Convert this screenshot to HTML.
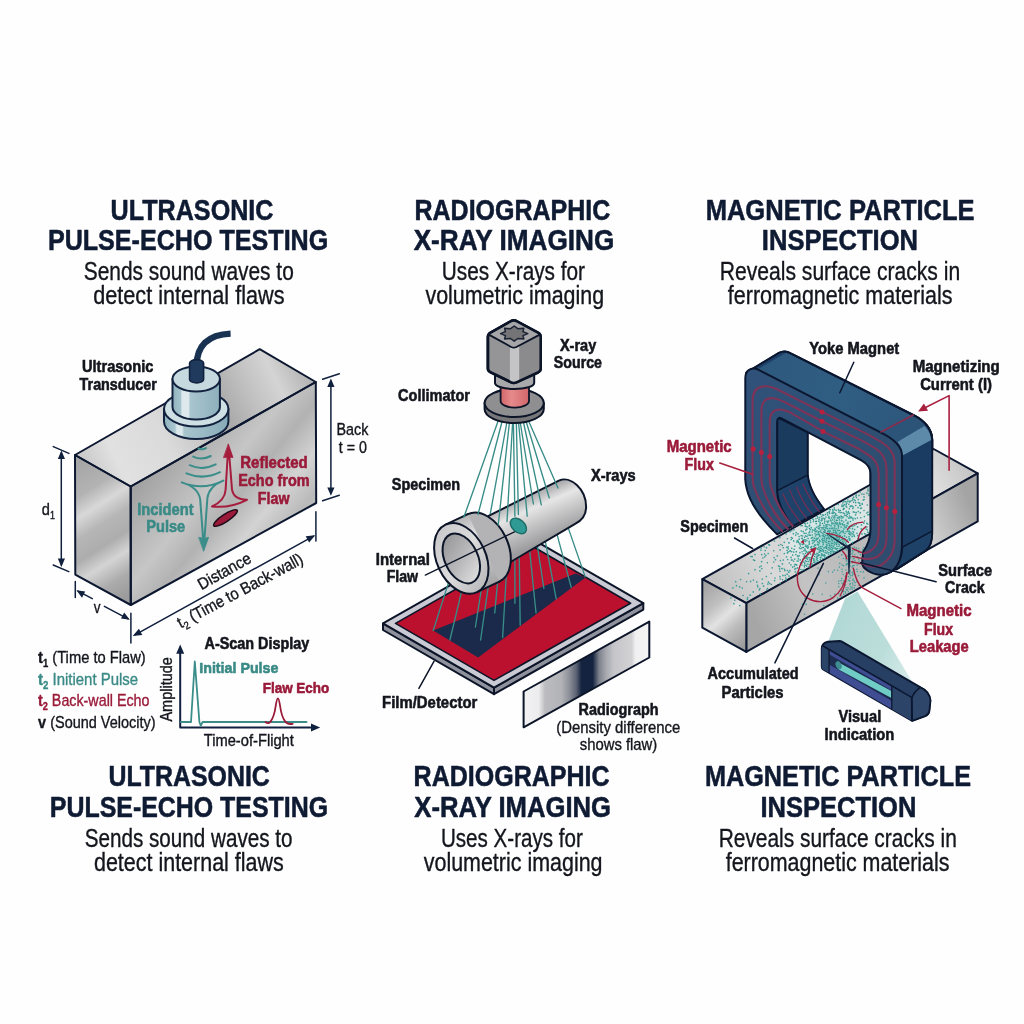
<!DOCTYPE html>
<html lang="en">
<head>
<meta charset="utf-8">
<title>NDT methods: Ultrasonic, Radiographic, Magnetic Particle</title>
<style>
html,body{margin:0;padding:0;background:#fefefe;}
body{width:1024px;height:1024px;overflow:hidden;}
svg{display:block;font-family:"Liberation Sans",sans-serif;will-change:transform;}
text{stroke-linejoin:round;}
</style>
</head>
<body>
<svg width="1024" height="1024" viewBox="0 0 1024 1024">
<defs>
<linearGradient id="mTop" gradientUnits="userSpaceOnUse" x1="90" y1="470" x2="300" y2="365">
<stop offset="0" stop-color="#cbcbcc"/><stop offset=".12" stop-color="#e1e1e2"/><stop offset=".35" stop-color="#dadadb"/><stop offset=".5" stop-color="#c6c6c7"/><stop offset=".62" stop-color="#a9a9aa"/><stop offset=".75" stop-color="#c0c0c1"/><stop offset=".88" stop-color="#d4d4d5"/><stop offset="1" stop-color="#b6b6b7"/>
</linearGradient>
<linearGradient id="mFront" gradientUnits="userSpaceOnUse" x1="140" y1="470" x2="310" y2="610">
<stop offset="0" stop-color="#9d9d9e"/><stop offset=".16" stop-color="#b3b3b4"/><stop offset=".3" stop-color="#c6c6c7"/><stop offset=".42" stop-color="#b2b2b3"/><stop offset=".56" stop-color="#d3d3d4"/><stop offset=".68" stop-color="#bababb"/><stop offset=".82" stop-color="#c4c4c5"/><stop offset="1" stop-color="#a1a1a2"/>
</linearGradient>
<linearGradient id="mSide" gradientUnits="userSpaceOnUse" x1="66" y1="472" x2="140" y2="588">
<stop offset="0" stop-color="#a6a6a7"/><stop offset=".2" stop-color="#b3b3b4"/><stop offset=".33" stop-color="#d8d8d9"/><stop offset=".46" stop-color="#b6b6b7"/><stop offset=".6" stop-color="#adadae"/><stop offset=".72" stop-color="#d4d4d5"/><stop offset=".86" stop-color="#acacad"/><stop offset="1" stop-color="#9b9b9c"/>
</linearGradient>
<linearGradient id="tdSide" gradientUnits="userSpaceOnUse" x1="164" y1="0" x2="228.4" y2="0">
<stop offset="0" stop-color="#8fb2be"/><stop offset=".17" stop-color="#a9c6cf"/><stop offset=".2" stop-color="#dbe8eb"/><stop offset=".28" stop-color="#dbe8eb"/><stop offset=".31" stop-color="#a9c5ce"/><stop offset="1" stop-color="#86abb8"/>
</linearGradient>
<linearGradient id="tdSide2" gradientUnits="userSpaceOnUse" x1="172.5" y1="0" x2="220" y2="0">
<stop offset="0" stop-color="#8fb2be"/><stop offset=".17" stop-color="#a5c3cc"/><stop offset=".2" stop-color="#dde9ec"/><stop offset=".34" stop-color="#dde9ec"/><stop offset=".37" stop-color="#a9c5ce"/><stop offset="1" stop-color="#8db0bc"/>
</linearGradient>
<linearGradient id="cylBody" gradientUnits="userSpaceOnUse" x1="528" y1="494" x2="548" y2="540">
<stop offset="0" stop-color="#a3a3a5"/><stop offset=".3" stop-color="#e6e6e7"/><stop offset=".55" stop-color="#cbcbcc"/><stop offset="1" stop-color="#9c9c9e"/>
</linearGradient>
<linearGradient id="cylFl" gradientUnits="userSpaceOnUse" x1="470" y1="512" x2="500" y2="585">
<stop offset="0" stop-color="#b3b3b5"/><stop offset=".3" stop-color="#e4e4e5"/><stop offset=".6" stop-color="#c6c6c8"/><stop offset="1" stop-color="#a0a0a2"/>
</linearGradient>
<linearGradient id="cylFace" gradientUnits="userSpaceOnUse" x1="-20" y1="-30" x2="20" y2="30">
<stop offset="0" stop-color="#c9c9cb"/><stop offset=".5" stop-color="#dcdcdd"/><stop offset="1" stop-color="#b9b9bb"/>
</linearGradient>
<linearGradient id="cylHole" gradientUnits="userSpaceOnUse" x1="-14" y1="-20" x2="14" y2="22">
<stop offset="0" stop-color="#98989a"/><stop offset=".55" stop-color="#bcbcbe"/><stop offset="1" stop-color="#e0e0e1"/>
</linearGradient>
<linearGradient id="pinkCyl" gradientUnits="userSpaceOnUse" x1="500" y1="0" x2="529" y2="0">
<stop offset="0" stop-color="#cf6468"/><stop offset=".4" stop-color="#e68a8c"/><stop offset="1" stop-color="#d0666a"/>
</linearGradient>
<linearGradient id="radio" gradientUnits="userSpaceOnUse" x1="523.6" y1="0" x2="649.3" y2="0">
<stop offset="0" stop-color="#f2f2f3"/><stop offset=".12" stop-color="#ececee"/><stop offset=".17" stop-color="#bcbcc0"/><stop offset=".3" stop-color="#b2b3b7"/>
<stop offset=".36" stop-color="#8f929b"/><stop offset=".42" stop-color="#5a6172"/><stop offset=".46" stop-color="#14233f"/><stop offset=".55" stop-color="#14233f"/>
<stop offset=".6" stop-color="#7d818d"/><stop offset=".66" stop-color="#a9abb1"/><stop offset=".72" stop-color="#c6c6ca"/><stop offset=".86" stop-color="#d2d2d5"/><stop offset=".89" stop-color="#f0f0f1"/><stop offset="1" stop-color="#f4f4f5"/>
</linearGradient>
<linearGradient id="ykFront" gradientUnits="userSpaceOnUse" x1="745" y1="380" x2="900" y2="560">
<stop offset="0" stop-color="#30527a"/><stop offset=".5" stop-color="#2e4f72"/><stop offset="1" stop-color="#2f4c6e"/>
</linearGradient>
<linearGradient id="ykTop" gradientUnits="userSpaceOnUse" x1="760" y1="360" x2="920" y2="430">
<stop offset="0" stop-color="#2e597e"/><stop offset=".5" stop-color="#305d82"/><stop offset="1" stop-color="#2d577b"/>
</linearGradient>
<linearGradient id="spTop" gradientUnits="userSpaceOnUse" x1="720" y1="590" x2="960" y2="455">
<stop offset="0" stop-color="#c2c2c3"/><stop offset=".2" stop-color="#d9d9da"/><stop offset=".5" stop-color="#cfcfd0"/><stop offset=".85" stop-color="#e0e0e1"/><stop offset="1" stop-color="#c6c6c7"/>
</linearGradient>
<linearGradient id="spFront" gradientUnits="userSpaceOnUse" x1="750" y1="610" x2="975" y2="515">
<stop offset="0" stop-color="#a6a6a7"/><stop offset=".25" stop-color="#c3c3c4"/><stop offset=".5" stop-color="#b9b9ba"/><stop offset=".8" stop-color="#d0d0d1"/><stop offset="1" stop-color="#a4a4a5"/>
</linearGradient>
<linearGradient id="spEnd" gradientUnits="userSpaceOnUse" x1="700" y1="590" x2="748" y2="644">
<stop offset="0" stop-color="#a4a4a5"/><stop offset=".3" stop-color="#c0c0c1"/><stop offset=".5" stop-color="#e2e2e3"/><stop offset=".7" stop-color="#bdbdbe"/><stop offset="1" stop-color="#9a9a9b"/>
</linearGradient>
<linearGradient id="beam" gradientUnits="userSpaceOnUse" x1="830" y1="640" x2="910" y2="680">
<stop offset="0" stop-color="#b3d9d6"/><stop offset=".6" stop-color="#bcdedb"/><stop offset="1" stop-color="#d6ebe9"/>
</linearGradient>
<radialGradient id="haze" gradientUnits="userSpaceOnUse" cx="832" cy="536" r="56" gradientTransform="translate(832 536) rotate(-29.3) scale(1 .7) translate(-832 -536)">
<stop offset="0" stop-color="#7cc4be" stop-opacity=".95"/><stop offset=".22" stop-color="#a9d9d5" stop-opacity=".9"/><stop offset=".5" stop-color="#d6ecea" stop-opacity=".8"/><stop offset=".8" stop-color="#e6f2f1" stop-opacity=".5"/><stop offset="1" stop-color="#eef6f5" stop-opacity="0"/>
</radialGradient>
</defs>

<rect width="1024" height="1024" fill="#fefefe"/>
<g id="titles">
<text x="110.54" y="220.0" font-size="29.9" font-weight="700" fill="#0f1a33" stroke="#0f1a33" stroke-width="0.55" textLength="162.97" lengthAdjust="spacingAndGlyphs">ULTRASONIC</text>
<text x="47.91" y="250.4" font-size="29.9" font-weight="700" fill="#0f1a33" stroke="#0f1a33" stroke-width="0.55" textLength="280.36" lengthAdjust="spacingAndGlyphs">PULSE-ECHO TESTING</text>
<text x="83.79" y="280.2" font-size="25.4" font-weight="400" fill="#14161d" stroke="#14161d" stroke-width="0.36" textLength="209.97" lengthAdjust="spacingAndGlyphs">Sends sound waves to</text>
<text x="93.24" y="304.2" font-size="25.4" font-weight="400" fill="#14161d" stroke="#14161d" stroke-width="0.36" textLength="191.24" lengthAdjust="spacingAndGlyphs">detect internal flaws</text>
<text x="414.54" y="220.0" font-size="29.9" font-weight="700" fill="#0f1a33" stroke="#0f1a33" stroke-width="0.55" textLength="195.64" lengthAdjust="spacingAndGlyphs">RADIOGRAPHIC</text>
<text x="413.67" y="250.4" font-size="29.9" font-weight="700" fill="#0f1a33" stroke="#0f1a33" stroke-width="0.55" textLength="200.62" lengthAdjust="spacingAndGlyphs">X-RAY IMAGING</text>
<text x="441.82" y="280.2" font-size="25.4" font-weight="400" fill="#14161d" stroke="#14161d" stroke-width="0.36" textLength="143.21" lengthAdjust="spacingAndGlyphs">Uses X-rays for</text>
<text x="425.42" y="304.2" font-size="25.4" font-weight="400" fill="#14161d" stroke="#14161d" stroke-width="0.36" textLength="178.70" lengthAdjust="spacingAndGlyphs">volumetric imaging</text>
<text x="705.66" y="220.0" font-size="29.9" font-weight="700" fill="#0f1a33" stroke="#0f1a33" stroke-width="0.55" textLength="269.00" lengthAdjust="spacingAndGlyphs">MAGNETIC PARTICLE</text>
<text x="761.83" y="250.4" font-size="29.9" font-weight="700" fill="#0f1a33" stroke="#0f1a33" stroke-width="0.55" textLength="156.15" lengthAdjust="spacingAndGlyphs">INSPECTION</text>
<text x="719.76" y="280.2" font-size="25.4" font-weight="400" fill="#14161d" stroke="#14161d" stroke-width="0.36" textLength="240.37" lengthAdjust="spacingAndGlyphs">Reveals surface cracks in</text>
<text x="727.80" y="304.2" font-size="25.4" font-weight="400" fill="#14161d" stroke="#14161d" stroke-width="0.36" textLength="224.73" lengthAdjust="spacingAndGlyphs">ferromagnetic materials</text>
<text x="108.41" y="786.0" font-size="29.9" font-weight="700" fill="#0f1a33" stroke="#0f1a33" stroke-width="0.55" textLength="161.46" lengthAdjust="spacingAndGlyphs">ULTRASONIC</text>
<text x="49.79" y="817.2" font-size="29.9" font-weight="700" fill="#0f1a33" stroke="#0f1a33" stroke-width="0.55" textLength="278.36" lengthAdjust="spacingAndGlyphs">PULSE-ECHO TESTING</text>
<text x="84.74" y="846.5" font-size="25.4" font-weight="400" fill="#14161d" stroke="#14161d" stroke-width="0.36" textLength="207.76" lengthAdjust="spacingAndGlyphs">Sends sound waves to</text>
<text x="93.99" y="871.0" font-size="25.4" font-weight="400" fill="#14161d" stroke="#14161d" stroke-width="0.36" textLength="189.76" lengthAdjust="spacingAndGlyphs">detect internal flaws</text>
<text x="413.61" y="786.0" font-size="29.9" font-weight="700" fill="#0f1a33" stroke="#0f1a33" stroke-width="0.55" textLength="195.94" lengthAdjust="spacingAndGlyphs">RADIOGRAPHIC</text>
<text x="414.29" y="817.2" font-size="29.9" font-weight="700" fill="#0f1a33" stroke="#0f1a33" stroke-width="0.55" textLength="196.72" lengthAdjust="spacingAndGlyphs">X-RAY IMAGING</text>
<text x="440.98" y="846.5" font-size="25.4" font-weight="400" fill="#14161d" stroke="#14161d" stroke-width="0.36" textLength="141.77" lengthAdjust="spacingAndGlyphs">Uses X-rays for</text>
<text x="423.75" y="871.0" font-size="25.4" font-weight="400" fill="#14161d" stroke="#14161d" stroke-width="0.36" textLength="178.76" lengthAdjust="spacingAndGlyphs">volumetric imaging</text>
<text x="704.95" y="786.0" font-size="29.9" font-weight="700" fill="#0f1a33" stroke="#0f1a33" stroke-width="0.55" textLength="266.04" lengthAdjust="spacingAndGlyphs">MAGNETIC PARTICLE</text>
<text x="760.43" y="817.2" font-size="29.9" font-weight="700" fill="#0f1a33" stroke="#0f1a33" stroke-width="0.55" textLength="155.97" lengthAdjust="spacingAndGlyphs">INSPECTION</text>
<text x="718.73" y="846.5" font-size="25.4" font-weight="400" fill="#14161d" stroke="#14161d" stroke-width="0.36" textLength="238.03" lengthAdjust="spacingAndGlyphs">Reveals surface cracks in</text>
<text x="725.75" y="871.0" font-size="25.4" font-weight="400" fill="#14161d" stroke="#14161d" stroke-width="0.36" textLength="223.75" lengthAdjust="spacingAndGlyphs">ferromagnetic materials</text>
</g>
<g id="ut" stroke-linejoin="round" stroke-linecap="round">
<polygon points="75.0,455.0 130.7,486.5 315.8,382.0 259.7,349.2" fill="url(#mTop)"/>
<polygon points="75.0,455.0 130.7,486.5 130.8,605.0 75.3,574.6" fill="url(#mSide)"/>
<polygon points="130.7,486.5 315.8,382.0 316.2,503.0 130.8,605.0" fill="url(#mFront)"/>
<g fill="none" stroke="#0c1730" stroke-width="2"><polygon points="75.0,455.0 130.7,486.5 315.8,382.0 259.7,349.2"/><polygon points="75.0,455.0 130.7,486.5 130.8,605.0 75.3,574.6"/><polygon points="130.7,486.5 315.8,382.0 316.2,503.0 130.8,605.0"/></g>
<g stroke="#13233f" stroke-width="2">
<path d="M164,409 v12.6 a32.2,17.5 0 0 0 64.4,0 v-12.6 z" fill="url(#tdSide)"/>
<ellipse cx="196.2" cy="409" rx="32.2" ry="17.5" fill="#cfe0e4"/>
<path d="M172.5,379 v28 a23.7,12.6 0 0 0 47.4,0 v-28 z" fill="url(#tdSide2)"/>
<ellipse cx="196.2" cy="379" rx="23.7" ry="12.6" fill="#c6d9de"/>
</g>
<path d="M196.6,366 C196.6,346 208,334.5 230.6,333.6" fill="none" stroke="#193252" stroke-width="6.4" stroke-linecap="butt"/>
<path d="M189.6,363 v16.5 a7,3.4 0 0 0 14,0 v-16.5 a7,3.4 0 0 0 -14,0z" fill="#1f3a5c" stroke="#13233f" stroke-width="1.6"/>

<g fill="none" stroke="#3a8d89" stroke-width="2">
<path d="M198.5,448.5 q3.6,1.8 7.5,-0.4"/>
<path d="M193.2,456.6 q8.6,4.2 17.6,-0.6"/>
<path d="M189.7,465.2 q12.6,5.8 26,-0.9"/>
<path d="M186.4,473.4 q16.5,7 33.6,-1.2"/>
<path d="M181.8,482.4 q21,8.6 41.6,-1.8 q-14.4,5.6 -16,17.4 l-2.8,39 M181.8,482.4 q16.6,5 18.4,17 l2.8,38"/>
</g>
<path d="M199,537.4 q4.8,1.6 9.6,0 l-4.9,13.6z" fill="#3a8d89" stroke="#3a8d89" stroke-width="0.8"/>
<g fill="none" stroke="#a51c3c" stroke-width="2">
<path d="M227.6,457 l-2,33 q-0.8,10.8 -13.6,16.4 q17.5,2.2 35,-6.6 q-13.6,-0.4 -15,-10.4 l-2.6,-32.4"/>
</g>
<path d="M223.8,457.6 q4.6,-1.4 9.2,0 l-4.6,-13.4z" fill="#a51c3c" stroke="#a51c3c" stroke-width="0.8"/>
<ellipse cx="225.5" cy="518" rx="14" ry="3.7" transform="rotate(-33.5 225.5 518)" fill="#9b1a3a" stroke="#1c0a16" stroke-width="1.5"/>
<g fill="none" stroke="#10203d" stroke-width="1.5">
<path d="M53.3,446.6 L68.9,453.4 M53.2,565 L68.8,571.6 M61.3,453 V565"/>
<path d="M322.6,379.2 L339.3,373.7 M322.6,500.7 L339.3,495.2 M330.9,381 V493"/>
<path d="M75.3,581.4 V597.6 M130.9,613.2 V643.1 M315.9,511.8 V541"/>
<path d="M78,591.2 L92.3,598.6 M104.4,606.4 L128,618.8"/>
<path d="M135,634.8 L313.5,536.2"/>
</g>
<g fill="#10203d">
<path d="M61.4,450.6 l-3.6,8.4 h7.2z M61.4,567 l-3.6,-8.4 h7.2z"/>
<path d="M330.9,378.6 l-3.6,8.4 h7.2z M330.9,495.8 l-3.6,-8.4 h7.2z"/>
<path d="M76.4,590.3 l8.8,1.2 l-3.2,6.2z M129.8,619.8 l-8.8,-1.2 l3.2,-6.2z"/>
<path d="M132.7,636 l6.2,-7.2 l3.4,6.2z M315.3,535.2 l-6.2,7.2 l-3.4,-6.2z"/>
</g>
<text x="82.01" y="372.3" font-size="17.2" font-weight="700" fill="#14161d" stroke="#14161d" stroke-width="0.6" textLength="71.39" lengthAdjust="spacingAndGlyphs">Ultrasonic</text>
<text x="79.60" y="389.9" font-size="17.2" font-weight="700" fill="#14161d" stroke="#14161d" stroke-width="0.6" textLength="77.26" lengthAdjust="spacingAndGlyphs">Transducer</text>
<text x="336.54" y="435.2" font-size="16.3" font-weight="400" fill="#14161d" stroke="#14161d" stroke-width="0.36" textLength="31.84" lengthAdjust="spacingAndGlyphs">Back</text>
<text x="338.86" y="452.6" font-size="16.3" font-weight="400" fill="#14161d" stroke="#14161d" stroke-width="0.36" textLength="28.13" lengthAdjust="spacingAndGlyphs">t = 0</text>
<text x="240.22" y="468.4" font-size="17.2" font-weight="700" fill="#9a1a39" stroke="#9a1a39" stroke-width="0.6" textLength="67.55" lengthAdjust="spacingAndGlyphs">Reflected</text>
<text x="238.23" y="486.4" font-size="17.2" font-weight="700" fill="#9a1a39" stroke="#9a1a39" stroke-width="0.6" textLength="71.35" lengthAdjust="spacingAndGlyphs">Echo from</text>
<text x="257.84" y="504.2" font-size="17.2" font-weight="700" fill="#9a1a39" stroke="#9a1a39" stroke-width="0.6" textLength="31.62" lengthAdjust="spacingAndGlyphs">Flaw</text>
<text x="137.24" y="515.1" font-size="17.2" font-weight="700" fill="#3a8a86" stroke="#3a8a86" stroke-width="0.6" textLength="56.41" lengthAdjust="spacingAndGlyphs">Incident</text>
<text x="146.22" y="532.3" font-size="17.2" font-weight="700" fill="#3a8a86" stroke="#3a8a86" stroke-width="0.6" textLength="39.03" lengthAdjust="spacingAndGlyphs">Pulse</text>
<text transform="translate(227.0,576.0) rotate(-29.3)" x="-29.2" y="0" font-size="16.3" font-weight="400" fill="#14161d" stroke="#14161d" stroke-width="0.36" stroke-linejoin="round" textLength="58.4" lengthAdjust="spacingAndGlyphs">Distance</text>
<text transform="translate(242.6,595.6) rotate(-28)" x="-70.0" y="0" font-size="16.5" font-weight="400" fill="#14161d" stroke="#14161d" stroke-width="0.36" stroke-linejoin="round" textLength="140.0" lengthAdjust="spacingAndGlyphs">t<tspan font-size="10.5" dy="3.6">2</tspan><tspan dy="-3.6"> (Time to Back-wall)</tspan></text>
<text x="41.82" y="515.2" font-size="17" font-weight="400" fill="#14161d" stroke="#14161d" stroke-width="0.36" textLength="13.16" lengthAdjust="spacingAndGlyphs">d<tspan font-size="10.5" dy="4.2">1</tspan></text>
<text x="93.76" y="613.0" font-size="17" font-weight="400" fill="#14161d" stroke="#14161d" stroke-width="0.36" textLength="6.75" lengthAdjust="spacingAndGlyphs">v</text>
<text x="38.03" y="663.0" font-size="16.4" font-weight="400" fill="#14161d" stroke="#14161d" stroke-width="0.36" textLength="107.73" lengthAdjust="spacingAndGlyphs"><tspan font-weight="700">t<tspan font-size="10.5" dy="4.2">1</tspan><tspan dy="-4.2"> </tspan></tspan>(Time to Flaw)</text>
<text x="38.02" y="684.5" font-size="16.4" font-weight="400" fill="#3a8a86" stroke="#3a8a86" stroke-width="0.36" textLength="100.15" lengthAdjust="spacingAndGlyphs"><tspan font-weight="700">t<tspan font-size="10.5" dy="4.2">2</tspan><tspan dy="-4.2"> </tspan></tspan>Initient Pulse</text>
<text x="38.03" y="706.0" font-size="16.4" font-weight="400" fill="#9a1a39" stroke="#9a1a39" stroke-width="0.36" textLength="111.48" lengthAdjust="spacingAndGlyphs"><tspan font-weight="700">t<tspan font-size="10.5" dy="4.2">2</tspan><tspan dy="-4.2"> </tspan></tspan>Back-wall Echo</text>
<text x="38.12" y="727.5" font-size="16.4" font-weight="400" fill="#14161d" stroke="#14161d" stroke-width="0.36" textLength="117.45" lengthAdjust="spacingAndGlyphs"><tspan font-weight="700">v </tspan>(Sound Velocity)</text>
<g fill="none" stroke-linejoin="round">
<path d="M180.2,649 V727.5 H316" stroke="#10213f" stroke-width="2"/>
<path d="M180.8,722 H191 L194.8,661.5 L199.4,722 L200.8,725.6 L202.6,722 H306.5" stroke="#3a8d89" stroke-width="1.8"/>
<path d="M265.5,722 q3,2.4 5.2,-0.6 q3.6,-5 5,-15.4 q1.2,-7.6 2.2,-7.6 q1,0 2.2,7.6 q1.4,10.6 5,15.4 q2.6,3.4 7.6,2.4" stroke="#9a1a39" stroke-width="1.8"/>
</g>
<path d="M180.2,644.6 l-4,9.2 h8z M320.2,727.5 l-9.2,-4 v8z" fill="#10213f"/>
<text x="204.50" y="648.8" font-size="16.9" font-weight="700" fill="#14161d" stroke="#14161d" stroke-width="0.6" textLength="104.80" lengthAdjust="spacingAndGlyphs">A-Scan Display</text>
<text x="199.24" y="673.2" font-size="15.5" font-weight="700" fill="#3a8a86" stroke="#3a8a86" stroke-width="0.6" textLength="79.16" lengthAdjust="spacingAndGlyphs">Initial Pulse</text>
<text x="262.74" y="692.9" font-size="15.5" font-weight="700" fill="#9a1a39" stroke="#9a1a39" stroke-width="0.6" textLength="66.52" lengthAdjust="spacingAndGlyphs">Flaw Echo</text>
<text x="203.75" y="745.8" font-size="15.6" font-weight="400" fill="#14161d" stroke="#14161d" stroke-width="0.36" textLength="90.10" lengthAdjust="spacingAndGlyphs">Time-of-Flight</text>
<text transform="translate(171.6,689.4) rotate(-90)" x="-32.2" y="0" font-size="15.6" font-weight="400" fill="#14161d" stroke="#14161d" stroke-width="0.36" stroke-linejoin="round" textLength="64.5" lengthAdjust="spacingAndGlyphs">Amplitude</text>
</g>
<g id="xray" stroke-linejoin="round" stroke-linecap="round">
<g stroke="#0c1528" stroke-width="2">
<path d="M383,623.4 L494,687.6 L643.3,603.2 V609.6 L494,694.2 L383,630z" fill="#8f919d"/>
<path d="M494,687.6 V694.2" fill="none"/>
<path d="M383,623.4 L532,538.8 L643.3,603.2 L494,687.6z" fill="#c9cad3"/>
<path d="M395.5,623.4 L532,546 L630.6,603.2 L494,680.4z" fill="#bb112e" stroke-width="1.6"/>
</g>
<path d="M433.2,630.5 L575.6,573.4 L585.2,577.8 L478.1,657.4z" fill="#1b2a4a"/>
<path d="M450.7,575.9 L433.2,630.5 M464.6,579.1 L449.9,640.0 M482.8,579.8 L475.4,627.0 M489.7,576.1 L480.6,640.0 M498.6,571.8 L494.7,612.9 M506.9,565.5 L502.6,637.5 M514.9,549.7 L514.9,603.3 M519.1,546.2 L520.2,625.2 M528.5,539.3 L536.0,612.9 M535.7,535.0 L543.9,588.3 M543.1,529.7 L556.2,598.9 M553.5,521.2 L571.2,587.4 M563.9,515.4 L585.2,576.9" fill="none" stroke="#378c87" stroke-width="1.35"/>
<g stroke="#0c1528" stroke-width="2">
<path d="M488.6,515.9 L558.9,480.7 C570,475 586.5,489 586.1,507.5 C586,515 582,520.5 574.7,524.2 L510.5,562 L470,560z" fill="url(#cylBody)"/>
<g transform="translate(483.6,547.9) rotate(-25)"><ellipse rx="24.5" ry="37.2" fill="url(#cylFl)"/></g>
<path d="M445.6,524.6 L467.9,514.1 L499.3,581.7 L477,592.2z" fill="url(#cylFl)" stroke="none"/>
<path d="M445.6,524.6 L467.9,514.1 M477,592.2 L499.3,581.7" fill="none"/>
<g transform="translate(461.3,558.4) rotate(-25)"><ellipse rx="24.5" ry="37.2" fill="url(#cylFace)"/><ellipse rx="16.6" ry="26.4" fill="url(#cylHole)"/></g>
</g>
<path d="M425.3,575.1 L517.6,530.3" fill="none" stroke="#0c1528" stroke-width="1.3"/>
<g transform="translate(518.4,525.9) rotate(42)"><ellipse rx="9.4" ry="6.2" fill="#2f9a93" stroke="#1c6b67" stroke-width="1.4"/></g>
<path d="M498.1,421 L463.9,517.1 M502.2,421 L478.0,514.5 M507.1,421 L490.3,513.6 M509.6,421 L498.2,525.0 M512.7,421 L507.0,521.5 M513.4,421 L514.9,516.2 M516.3,421 L518.4,514.5 M518.4,421 L527.2,516.2 M520.0,421 L533.4,504.0 M523.2,421 L541.3,504.8 M526.0,421 L549.2,497.8 M528.6,421 L558.0,488.1" fill="none" stroke="#378c87" stroke-width="1.35"/>
<g stroke="#0c1528" stroke-width="2">
<path d="M484.6,403 v6 a29.6,14 0 0 0 59.2,0 v-6z" fill="#77777a"/>
<ellipse cx="514.2" cy="403" rx="29.6" ry="14" fill="#8f8f92"/>
<path d="M500.6,384 v17 a14.2,6.6 0 0 0 28.4,0 v-17z" fill="url(#pinkCyl)" stroke-width="1.8"/>
<path d="M495,372 v11 a19.6,6 0 0 0 39.2,0 v-11z" fill="#a9a9ab"/>
<path d="M510.6,321.3 Q513.8,319.4 517,321.3 L538.4,332.8 Q540.7,334.2 540.7,337 V368.6 Q540.7,371 538.4,372.2 L516.4,382.4 Q513.8,383.6 511.2,382.4 L490.2,372.2 Q487.9,371 487.9,368.6 V337 Q487.9,334.2 490.2,332.8z" fill="#959597" stroke-width="2.6"/>
<path d="M513.8,348.1 L540,334.6 V370.6 L513.8,383z" fill="#8b8b8d" stroke="none"/>
<path d="M509.9,346.4 Q513.8,348.6 519.2,345.8 V381 Q513.8,383.8 509.9,381.6z" fill="#c4c4c6" stroke="none"/>
<path d="M510.6,321.3 Q513.8,319.4 517,321.3 L538.4,332.8 Q540.6,334.2 538.4,335.4 L516.4,347 Q513.8,348.3 511.2,347 L490.2,335.4 Q488,334.2 490.2,332.8z" fill="#a6a6a8" stroke-width="1.8"/>
<path d="M510.6,321.3 Q513.8,319.4 517,321.3 L538.4,332.8 Q540.7,334.2 540.7,337 V368.6 Q540.7,371 538.4,372.2 L516.4,382.4 Q513.8,383.6 511.2,382.4 L490.2,372.2 Q487.9,371 487.9,368.6 V337 Q487.9,334.2 490.2,332.8z" fill="none" stroke-width="2.6"/>
</g>
<polygon points="527.8,333.6 523.0,335.6 523.8,339.0 517.8,338.5 514.2,341.2 510.6,338.5 504.6,339.0 505.4,335.6 500.6,333.6 505.4,331.6 504.6,328.2 510.6,328.7 514.2,326.0 517.8,328.7 523.8,328.2 523.0,331.6" fill="#747476" stroke="#1a2233" stroke-width="1.5" stroke-linejoin="round"/>
<path d="M523.6,691.5 L649.3,621.6 V657.5 L523.6,727.3z" fill="url(#radio)" stroke="#0c1528" stroke-width="2"/>
<path d="M418.9,688.4 L434.1,661.2" fill="none" stroke="#0c1528" stroke-width="1.5"/>
<text x="559.91" y="350.6" font-size="17.2" font-weight="700" fill="#14161d" stroke="#14161d" stroke-width="0.6" textLength="36.35" lengthAdjust="spacingAndGlyphs">X-ray</text>
<text x="553.86" y="367.9" font-size="17.2" font-weight="700" fill="#14161d" stroke="#14161d" stroke-width="0.6" textLength="48.14" lengthAdjust="spacingAndGlyphs">Source</text>
<text x="398.02" y="400.7" font-size="17.2" font-weight="700" fill="#14161d" stroke="#14161d" stroke-width="0.6" textLength="71.99" lengthAdjust="spacingAndGlyphs">Collimator</text>
<text x="391.83" y="489.5" font-size="17.2" font-weight="700" fill="#14161d" stroke="#14161d" stroke-width="0.6" textLength="68.24" lengthAdjust="spacingAndGlyphs">Specimen</text>
<text x="590.90" y="480.6" font-size="17.2" font-weight="700" fill="#14161d" stroke="#14161d" stroke-width="0.6" textLength="44.78" lengthAdjust="spacingAndGlyphs">X-rays</text>
<text x="375.76" y="564.8" font-size="17.2" font-weight="700" fill="#14161d" stroke="#14161d" stroke-width="0.6" textLength="54.05" lengthAdjust="spacingAndGlyphs">Internal</text>
<text x="386.67" y="582.0" font-size="17.2" font-weight="700" fill="#14161d" stroke="#14161d" stroke-width="0.6" textLength="31.40" lengthAdjust="spacingAndGlyphs">Flaw</text>
<text x="382.08" y="707.7" font-size="17.2" font-weight="700" fill="#14161d" stroke="#14161d" stroke-width="0.6" textLength="95.24" lengthAdjust="spacingAndGlyphs">Film/Detector</text>
<text x="578.49" y="715.0" font-size="17.2" font-weight="700" fill="#14161d" stroke="#14161d" stroke-width="0.6" textLength="80.03" lengthAdjust="spacingAndGlyphs">Radiograph</text>
<text x="556.24" y="733.2" font-size="16.6" font-weight="400" fill="#14161d" stroke="#14161d" stroke-width="0.36" textLength="124.01" lengthAdjust="spacingAndGlyphs">(Density difference</text>
<text x="579.74" y="749.9" font-size="16.6" font-weight="400" fill="#14161d" stroke="#14161d" stroke-width="0.36" textLength="77.52" lengthAdjust="spacingAndGlyphs">shows flaw)</text>
</g>
<g id="mag" stroke-linejoin="round" stroke-linecap="round">
<g stroke="#0b1730" stroke-width="2">
<path d="M746.5,372.5 L779,352.8 Q784.9,349.8 790.7,353.3 L914.2,415.5 C923.9,420.5 932.2,429 932.2,439.9 V533 C932.2,541 930,547.5 925.9,550.5 L896.6,569.1 L860,563 L745.8,480z" fill="url(#ykTop)"/>
<path d="M749.7,370.6 L779,352.8 Q783.4,350.6 787.6,351.9 L757.2,369.6z" fill="#1e4068" stroke="none"/>
<path d="M902,455.5 L932.2,439.9 V533 C932.2,541 930,547.5 925.9,550.5 L896.6,569.1 L890.7,572 C899,566 902,556 902,544.7z" fill="#1a3c62" stroke="none"/>
<path d="M881,432.4 L913.4,415.2 C918,417.6 921.6,420.6 924.4,424.2 L897.6,441.9 C893,437.8 888,435 881,432.4z" fill="#2c5378" stroke="none"/>
<path d="M897.6,441.9 L924.4,426.2 C928,430 930.6,434.6 931.6,439.6 L902.6,455.6 C902.2,449.8 900.6,445.4 897.6,441.9z" fill="#5d8aa8" stroke="none"/>
<path d="M807.8,432.3 L861.4,460.4 C866,463 870.5,466.5 870.5,473.1 V540 L823.9,509 C812,494 808.3,484 807.8,474.3z" fill="#fefefe" stroke="none"/>
<path d="M777.1,417 L807.8,432.3 V474.3 C808.3,484 812,494 823.9,509 L792.7,526 C781,512 777.6,501 777.1,490.9z" fill="#1a3a5e"/>
<path d="M777.3,490.6 L807.7,475.2 C808.3,484 812,494 823.9,509 L792.7,526 C781,512 777.6,501 777.1,490.9z" fill="#1f426a" stroke-width="1.5"/>
</g>
<path d="M782.9,493.8 Q788.8,508.5 800.5,522.1 M789.8,489.9 Q794.6,503.6 806.4,518.2 M796.6,487 Q802,502 812.2,514.3 M802.9,484.1 Q809.6,499.7 819.1,511.4" fill="none" stroke="#6f2f55" stroke-width="1.3"/>
<path d="M746.5,372.5 L779,352.8 Q784.9,349.8 790.7,353.3 L914.2,415.5 C923.9,420.5 932.2,429 932.2,439.9 V533 C932.2,541 930,547.5 925.9,550.5 L896.6,569.1" fill="none" stroke="#0b1730" stroke-width="2"/>
<path d="M745.3,479.2 V378.2 C745.3,371 750,367.4 756.6,368.9 L881,432.6 C890,437 902,444 902,455.5 V544.7 C902,556 899,566 890.7,572 C884,576.2 875,575.6 867.4,570.5 C864,568.3 862.3,566 862,563.2 L863.3,551.5 C867.3,546 870.5,540 870.5,529 V473.1 C870.5,466.5 866,463 861.4,460.4 L781,418.2 C779,417.2 777.1,418.6 777.1,422.1 V490.9 C777.6,501 781,512 792.7,526 L777.1,534.4 C762,519.5 750,503 746.8,489 C745.6,484 745.3,481 745.3,479.2z" fill="url(#ykFront)" stroke="#0b1730" stroke-width="2"/>
<path d="M782,531 C770.2,519.2 759.5,503.6 753.6,486 C752.8,483 752.6,480 752.6,476 V400 C752.8,390.5 757.5,386.2 766,386.3 C770,386.4 774,387.8 778,389.8 L822,411.9 L867.3,434.1 L881,441.9 C888.8,446.5 893.7,452 894.7,461.4 V538.8 C894.7,552 889,560.3 881,565.2 C875,567.6 868,566.8 861.4,563.2 M787.8,529 C777,518.2 767.3,502.6 762.4,486 C761.6,483 761.4,480 761.4,476 V411.5 C761.4,402 765.5,397.8 772.2,398.2 C776,398.4 780,399.8 784,401.8 L822,421.2 L862.4,440.9 L875.1,448.2 C882.9,453 886.3,460 886.6,469.2 V534 C886.6,546.6 884,551.5 879,555.4 C875,558.5 870,559.8 862.4,558.4 M792.7,526 C782.9,515.3 775.1,500.7 770.7,486 C769.9,483 769.7,480 769.7,476 V422.5 C769.7,413.5 773.5,409.2 780,409.5 C784,409.7 787.5,411 791,412.8 L823,431.4 L857.5,448.2 L869.25,455.5 C876.1,460 878.5,466 878.7,473.1 V531 C878.6,541.8 876.5,546 872.2,549.6 C869.5,552 866.5,553.2 863.4,553.5" fill="none" stroke="#7e3358" stroke-width="2.1"/>
<g stroke="#0b1730" stroke-width="2">
<path d="M702.3,579.2 L933.7,449 L977.7,473.4 L746.3,603.1z" fill="url(#spTop)"/>
<path d="M746.3,603.1 L977.7,473.4 V521.4 L746.3,651.9z" fill="url(#spFront)"/>
<path d="M702.3,579.2 L746.3,603.1 V651.9 L702.3,627.7z" fill="url(#spEnd)"/>
</g>
<path d="M845,598.5 L857.5,591.5 L913,683 L828,642z" fill="url(#beam)"/>
<path d="M716,572.7 L869.4,486.4 V533.1 L760,594.4z" fill="url(#haze)"/>
<path d="M733.9,603.6h0M739.8,605.6h0M730.9,598.0h0M747.4,599.4h0M747.6,597.7h0M732.9,587.8h0M750.2,595.2h0M736.5,585.7h0M739.7,586.9h0M742.3,588.0h0M735.7,581.7h0M753.3,591.9h0M760.4,593.9h0M740.6,579.5h0M759.3,589.8h0M757.8,586.8h0M759.9,588.6h0M750.6,581.4h0M757.5,585.3h0M753.4,580.0h0M756.8,581.9h0M763.6,586.2h0M762.4,583.5h0M748.6,573.6h0M767.9,584.1h0M762.3,579.1h0M768.4,582.2h0M755.0,569.7h0M766.4,576.5h0M774.6,580.6h0M779.9,583.3h0M759.9,570.9h0M775.0,578.0h0M759.6,567.0h0M761.8,568.6h0M761.1,566.0h0M780.0,576.6h0M786.2,579.7h0M753.5,559.8h0M782.9,575.4h0M785.9,578.0h0M750.9,556.5h0M752.2,556.6h0M761.6,561.7h0M772.2,567.8h0M785.2,575.4h0M789.0,576.1h0M779.6,568.9h0M787.2,574.2h0M755.0,554.5h0M778.5,565.9h0M779.7,566.6h0M781.9,568.5h0M782.5,568.5h0M784.6,569.4h0M787.4,570.5h0M788.8,572.2h0M761.7,554.6h0M764.7,556.8h0M789.9,570.6h0M796.6,573.4h0M765.9,555.3h0M775.5,559.7h0M782.4,563.9h0M795.3,571.7h0M760.9,550.1h0M768.2,553.5h0M774.1,557.6h0M780.4,560.5h0M792.6,567.1h0M794.8,569.0h0M795.7,568.7h0M798.6,571.2h0M761.2,548.0h0M765.2,550.5h0M777.3,555.9h0M783.3,560.0h0M790.9,564.8h0M794.4,566.3h0M797.5,567.9h0M802.5,570.2h0M766.5,547.7h0M787.7,559.5h0M795.0,564.4h0M796.7,564.9h0M786.5,556.8h0M792.3,560.0h0M801.9,565.0h0M804.2,565.8h0M768.7,544.6h0M769.5,545.2h0M784.3,553.5h0M791.1,557.4h0M794.7,559.1h0M797.2,561.0h0M798.1,561.0h0M800.6,562.8h0M805.9,565.3h0M806.7,566.1h0M808.8,566.9h0M780.1,549.9h0M787.4,552.9h0M792.7,555.1h0M798.3,558.8h0M800.2,559.9h0M807.3,564.0h0M809.1,564.4h0M811.1,565.5h0M778.8,545.3h0M788.3,551.8h0M795.9,554.6h0M798.5,556.5h0M802.8,559.3h0M805.4,560.9h0M806.9,561.4h0M812.1,564.5h0M774.4,541.1h0M786.6,547.3h0M788.2,548.8h0M790.2,550.5h0M791.7,551.6h0M793.7,552.1h0M799.1,555.5h0M803.9,556.9h0M806.6,558.2h0M811.3,561.5h0M813.8,562.2h0M814.2,562.7h0M788.1,546.9h0M794.2,549.3h0M796.3,551.7h0M799.9,552.7h0M803.1,553.8h0M804.7,555.4h0M804.8,556.0h0M806.9,556.8h0M809.7,557.9h0M810.6,559.7h0M813.6,560.2h0M815.0,561.0h0M784.3,542.3h0M811.5,557.3h0M816.4,559.2h0M817.2,560.4h0M818.4,561.3h0M779.8,537.6h0M788.8,542.6h0M789.1,542.9h0M794.8,546.0h0M800.9,548.6h0M803.9,550.7h0M805.6,550.7h0M806.5,551.9h0M807.5,552.5h0M810.5,554.0h0M813.2,555.3h0M817.6,558.2h0M820.3,559.4h0M802.1,547.7h0M804.9,548.9h0M809.0,551.5h0M813.8,553.6h0M815.8,554.5h0M817.2,556.2h0M818.3,555.7h0M821.0,557.6h0M791.1,539.5h0M793.7,540.9h0M796.8,542.2h0M799.6,543.8h0M800.8,544.0h0M802.6,544.5h0M805.5,546.3h0M806.7,546.8h0M807.8,548.2h0M817.0,553.3h0M818.1,554.3h0M819.4,555.0h0M821.5,555.6h0M822.8,555.3h0M824.2,556.1h0M824.8,557.8h0M797.3,540.5h0M798.3,541.3h0M803.8,543.9h0M805.9,545.0h0M807.7,545.8h0M811.5,548.5h0M813.2,548.8h0M814.3,549.6h0M819.1,552.2h0M819.9,551.9h0M821.5,553.9h0M822.5,554.3h0M824.4,554.7h0M825.2,555.6h0M799.2,539.2h0M802.8,540.4h0M803.9,540.7h0M805.3,541.5h0M809.2,544.2h0M811.6,546.5h0M813.8,546.5h0M815.1,547.5h0M817.9,549.2h0M821.7,551.0h0M823.4,551.6h0M825.1,552.5h0M826.7,553.1h0M828.5,554.4h0M790.1,531.7h0M793.4,533.7h0M795.7,535.1h0M799.1,536.5h0M802.2,538.5h0M805.9,539.8h0M809.2,541.3h0M809.3,542.6h0M812.6,543.3h0M815.2,545.1h0M818.7,547.3h0M820.1,548.5h0M821.1,548.3h0M822.3,549.7h0M823.6,550.3h0M828.9,552.5h0M830.6,553.5h0M796.2,532.7h0M798.0,533.9h0M801.2,535.6h0M812.3,540.6h0M814.0,542.1h0M817.4,544.6h0M818.6,544.8h0M820.4,546.5h0M822.2,546.5h0M823.9,547.9h0M824.8,547.7h0M828.0,549.3h0M830.7,551.7h0M832.1,551.8h0M833.8,552.6h0M794.0,529.8h0M805.6,535.8h0M807.0,536.5h0M811.4,538.2h0M813.2,540.0h0M814.4,540.7h0M816.0,540.2h0M817.6,541.8h0M818.4,542.5h0M819.2,543.0h0M823.2,544.6h0M826.5,547.4h0M828.6,547.5h0M830.0,548.5h0M832.2,549.8h0M833.7,551.3h0M835.0,551.5h0M801.3,530.9h0M803.2,531.7h0M804.3,533.3h0M806.1,533.3h0M809.5,535.1h0M812.7,537.4h0M816.2,538.3h0M817.1,539.2h0M820.0,541.2h0M822.5,542.1h0M823.3,542.8h0M826.6,544.6h0M827.2,545.6h0M831.7,547.6h0M832.9,548.5h0M835.1,548.5h0M837.5,550.6h0M809.0,532.8h0M818.2,538.1h0M821.8,539.5h0M822.9,540.6h0M824.2,540.5h0M825.4,541.8h0M826.4,542.3h0M828.2,543.5h0M829.6,544.0h0M831.2,545.4h0M831.9,545.6h0M833.4,546.6h0M835.0,547.8h0M836.4,548.5h0M837.7,548.5h0M840.0,548.9h0M806.8,529.1h0M809.7,531.7h0M812.2,532.0h0M816.5,534.6h0M818.2,534.4h0M819.6,535.7h0M819.9,536.4h0M822.8,538.4h0M824.6,538.7h0M826.5,540.1h0M829.8,541.6h0M831.5,543.1h0M834.2,544.8h0M838.9,546.5h0M805.2,526.1h0M806.3,526.6h0M810.3,529.6h0M812.4,529.9h0M814.1,530.2h0M815.2,531.4h0M818.3,532.7h0M819.2,534.3h0M822.4,535.7h0M823.6,536.2h0M824.6,536.8h0M828.0,538.2h0M831.6,539.7h0M832.4,540.8h0M834.4,542.2h0M835.1,543.0h0M836.5,542.9h0M838.3,544.0h0M842.5,546.8h0M804.6,523.4h0M809.4,525.3h0M809.6,525.9h0M811.3,527.7h0M815.1,528.3h0M815.4,529.3h0M817.0,530.8h0M818.8,531.5h0M821.2,532.5h0M825.7,535.3h0M828.8,536.8h0M830.9,537.2h0M831.5,537.7h0M833.6,539.0h0M834.6,539.6h0M836.5,540.9h0M837.6,541.9h0M841.6,544.0h0M807.5,523.1h0M816.8,527.3h0M819.2,528.8h0M823.9,532.0h0M828.9,534.2h0M830.4,535.5h0M831.6,536.4h0M833.1,537.3h0M836.1,538.3h0M837.9,539.3h0M839.4,539.4h0M840.6,540.5h0M843.7,542.7h0M846.5,544.6h0M810.5,522.4h0M821.7,527.8h0M824.5,529.7h0M829.5,532.1h0M831.5,533.7h0M832.3,533.9h0M836.3,536.4h0M841.9,539.3h0M842.9,539.7h0M846.3,541.7h0M810.4,520.5h0M813.4,521.5h0M816.2,523.6h0M820.1,525.3h0M823.3,527.6h0M825.1,527.3h0M826.0,528.2h0M827.6,528.7h0M828.7,530.6h0M830.1,531.2h0M835.3,532.8h0M836.4,533.6h0M837.9,534.3h0M839.6,535.4h0M842.4,536.9h0M844.8,538.7h0M847.5,540.1h0M849.8,540.2h0M852.4,542.6h0M812.7,518.9h0M818.9,521.4h0M820.2,522.9h0M823.8,525.5h0M826.1,525.5h0M826.8,526.5h0M829.8,528.4h0M831.7,528.4h0M833.4,530.3h0M836.4,532.4h0M839.7,533.3h0M844.6,535.9h0M849.1,538.7h0M849.9,538.9h0M819.0,519.7h0M821.2,520.7h0M826.0,524.5h0M827.7,524.7h0M829.5,525.0h0M831.1,525.8h0M833.0,528.1h0M836.1,528.9h0M837.8,530.4h0M840.9,531.9h0M843.3,532.5h0M849.0,536.7h0M817.3,516.5h0M819.4,517.6h0M821.5,518.8h0M824.8,521.3h0M827.7,522.3h0M831.9,523.8h0M834.4,525.3h0M835.0,525.9h0M842.3,531.1h0M843.5,531.0h0M848.7,533.3h0M850.7,534.7h0M852.2,536.4h0M854.4,536.3h0M858.0,538.7h0M821.6,516.5h0M823.1,518.2h0M828.5,521.0h0M831.9,522.8h0M833.2,523.3h0M836.5,524.1h0M838.2,525.6h0M841.1,527.1h0M843.9,528.9h0M847.8,531.1h0M849.3,531.2h0M849.9,532.0h0M851.2,533.0h0M852.8,533.8h0M854.0,535.0h0M857.8,535.7h0M822.6,514.9h0M826.0,517.0h0M829.5,518.2h0M830.5,520.0h0M832.5,519.9h0M837.1,522.9h0M837.8,524.0h0M839.7,523.8h0M840.5,524.3h0M843.0,525.1h0M844.5,526.9h0M845.6,527.5h0M846.3,527.5h0M847.7,529.4h0M853.0,531.6h0M853.5,532.1h0M857.0,533.3h0M827.6,514.9h0M828.9,516.6h0M831.7,517.8h0M834.6,519.0h0M839.6,522.4h0M842.1,523.5h0M842.6,524.3h0M844.6,524.9h0M846.6,525.7h0M847.0,525.8h0M849.2,526.6h0M849.9,528.0h0M852.5,528.7h0M861.9,533.9h0M834.2,515.9h0M835.0,516.9h0M837.3,517.8h0M838.2,518.1h0M839.3,519.8h0M841.5,520.7h0M841.9,520.6h0M848.0,523.7h0M851.3,526.2h0M852.9,525.9h0M864.6,533.6h0M829.3,511.7h0M832.0,513.1h0M833.2,513.5h0M835.7,514.9h0M839.1,516.7h0M839.9,517.8h0M841.9,518.1h0M845.9,520.2h0M848.0,522.1h0M854.7,525.3h0M857.6,526.9h0M861.3,528.9h0M867.8,532.2h0M829.5,509.3h0M832.9,510.7h0M833.1,512.2h0M835.8,513.9h0M841.0,516.1h0M843.2,517.1h0M866.2,529.1h0M832.7,509.6h0M836.1,510.3h0M840.4,512.5h0M844.9,515.4h0M848.8,518.1h0M850.0,517.8h0M853.0,520.0h0M861.5,524.9h0M834.3,507.9h0M838.4,509.6h0M839.1,510.8h0M841.8,512.5h0M844.5,513.7h0M847.3,514.3h0M851.0,516.8h0M851.6,517.7h0M853.0,518.3h0M855.2,518.6h0M863.9,523.1h0M843.2,509.4h0M846.2,511.4h0M847.0,512.8h0M848.8,512.9h0M849.4,513.5h0M866.8,523.4h0M867.8,524.0h0M838.2,504.5h0M842.0,506.5h0M843.8,508.4h0M848.4,511.5h0M855.6,514.8h0M842.0,505.1h0M843.4,505.8h0M846.0,506.1h0M846.7,507.1h0M853.4,511.9h0M856.2,512.7h0M864.4,516.5h0M844.3,504.7h0M846.2,504.3h0M850.1,506.6h0M852.8,508.5h0M858.2,511.5h0M860.3,512.7h0M843.7,501.6h0M845.4,501.7h0M846.7,503.2h0M851.0,505.8h0M852.2,506.2h0M853.4,507.0h0M867.9,514.7h0M869.5,514.7h0M847.4,501.3h0M849.0,501.1h0M849.7,502.1h0M858.1,507.6h0M860.7,508.3h0M861.5,508.0h0M868.0,512.1h0M847.7,499.0h0M850.8,501.0h0M855.7,502.6h0M859.8,505.4h0M860.4,505.4h0M852.7,498.8h0M854.0,499.6h0M855.2,500.5h0M858.4,502.7h0M859.7,503.2h0M862.2,503.7h0M862.3,504.2h0M853.6,497.2h0M858.2,499.5h0M855.9,496.0h0M863.2,500.1h0M856.2,494.9h0M859.0,495.4h0M864.2,499.5h0M861.9,494.0h0M864.0,496.9h0M860.2,492.0h0M866.6,493.0h0M868.9,495.3h0M868.0,490.9h0" fill="none" stroke="#40a19b" stroke-width="1.7"/>
<path d="M734.8,600.2h0M743.0,595.4h0M746.6,581.8h0M766.7,590.0h0M767.5,588.4h0M769.8,583.6h0M771.2,584.4h0M771.1,573.5h0M780.2,579.0h0M782.5,579.7h0M754.7,560.4h0M780.0,571.3h0M767.4,562.7h0M762.8,558.0h0M784.9,570.7h0M773.8,561.9h0M764.5,554.1h0M789.2,563.1h0M800.9,569.5h0M764.1,546.7h0M795.9,564.4h0M804.1,569.5h0M773.8,550.8h0M791.3,559.9h0M793.6,561.3h0M804.5,567.0h0M801.8,563.2h0M804.7,564.1h0M802.1,561.4h0M803.7,562.0h0M804.8,563.1h0M783.2,547.7h0M787.1,550.4h0M790.0,551.6h0M797.4,555.9h0M808.8,561.7h0M812.0,563.6h0M780.9,544.4h0M782.4,545.6h0M805.0,558.6h0M807.3,559.2h0M809.2,560.0h0M791.8,548.2h0M808.1,557.8h0M816.2,562.5h0M802.0,551.7h0M805.5,553.6h0M808.1,554.4h0M813.0,558.5h0M814.1,558.9h0M799.4,548.0h0M814.6,556.6h0M816.3,557.3h0M787.4,538.7h0M800.4,546.1h0M803.4,547.4h0M814.4,554.0h0M820.2,557.2h0M822.9,558.6h0M798.7,542.6h0M811.5,549.3h0M811.6,550.1h0M814.3,551.8h0M786.1,534.0h0M791.2,537.4h0M792.4,538.3h0M808.4,546.9h0M810.8,547.3h0M827.2,556.8h0M816.9,548.5h0M819.3,550.0h0M820.4,550.5h0M801.9,538.3h0M804.1,539.4h0M806.9,540.7h0M814.6,545.1h0M825.7,550.8h0M827.2,552.1h0M831.3,554.2h0M791.8,530.7h0M802.7,535.9h0M804.6,537.2h0M808.1,538.4h0M826.5,548.4h0M829.1,550.2h0M826.0,546.5h0M831.0,549.8h0M808.0,534.9h0M810.3,535.2h0M814.4,538.3h0M819.5,540.3h0M829.4,545.4h0M830.0,547.1h0M836.3,549.3h0M805.6,530.1h0M812.2,534.9h0M815.5,536.1h0M801.0,525.8h0M802.2,525.8h0M815.0,533.7h0M828.5,541.5h0M832.8,543.5h0M836.3,544.6h0M837.0,546.2h0M840.9,547.3h0M842.1,547.8h0M807.8,527.1h0M809.5,528.4h0M816.1,531.7h0M826.7,538.3h0M829.4,538.7h0M839.5,545.0h0M805.6,523.9h0M820.1,531.5h0M822.8,533.3h0M823.8,534.8h0M827.5,535.6h0M838.4,541.3h0M840.4,543.0h0M843.2,543.8h0M843.9,545.5h0M818.4,528.3h0M821.0,529.9h0M824.9,531.9h0M828.0,533.8h0M834.4,537.9h0M842.4,541.8h0M845.5,543.2h0M818.2,526.3h0M819.9,527.2h0M823.1,529.1h0M825.1,530.4h0M827.8,531.4h0M836.7,536.7h0M837.9,537.6h0M839.4,538.1h0M844.1,540.9h0M815.6,521.6h0M819.8,525.0h0M833.5,532.4h0M840.3,535.8h0M813.6,520.0h0M816.6,521.2h0M822.5,523.5h0M833.9,530.2h0M835.4,531.1h0M846.6,537.2h0M815.9,518.7h0M824.5,522.9h0M834.6,527.9h0M839.2,530.6h0M844.9,533.6h0M817.7,517.9h0M822.3,519.9h0M824.5,519.8h0M827.0,521.2h0M838.3,528.0h0M846.1,531.8h0M849.6,534.2h0M824.8,518.5h0M831.0,521.0h0M835.0,523.4h0M838.7,526.2h0M820.5,514.6h0M823.7,515.2h0M828.6,517.8h0M834.5,521.2h0M835.9,522.4h0M825.4,514.4h0M833.7,517.8h0M836.3,520.2h0M837.2,520.4h0M854.7,529.6h0M827.2,513.1h0M827.8,512.8h0M829.7,513.5h0M832.2,516.0h0M843.7,521.9h0M847.2,523.2h0M865.9,534.3h0M829.5,511.9h0M837.0,515.5h0M869.1,532.6h0M830.3,509.7h0M834.6,512.8h0M841.8,516.4h0M850.4,521.6h0M856.3,524.2h0M867.5,530.0h0M834.7,509.8h0M838.9,512.3h0M846.2,515.6h0M847.1,516.8h0M867.0,527.0h0M840.3,510.6h0M843.3,512.9h0M849.4,516.0h0M857.4,517.9h0M864.6,521.0h0M844.1,508.8h0M860.8,517.8h0M849.3,508.7h0M854.8,512.2h0M842.8,503.1h0M848.8,504.2h0M866.8,513.1h0M855.8,505.5h0M864.0,510.4h0M852.1,500.6h0M853.6,502.3h0M867.3,505.0h0M856.4,497.6h0M863.9,494.2h0M868.1,493.8h0M868.0,489.8h0M868.0,488.0h0" fill="none" stroke="#318d88" stroke-width="1.5"/>
<path d="M802.4,604.3h0M805.0,598.3h0M804.5,614.2h0M806.2,604.4h0M812.8,594.0h0M818.0,568.1h0M819.1,574.7h0M821.7,567.5h0M822.2,594.2h0M823.7,605.5h0M825.8,583.0h0M828.3,571.6h0M830.4,595.7h0M832.6,572.1h0M832.1,597.9h0M834.3,570.1h0M834.9,594.1h0M837.6,570.3h0M837.7,597.9h0M838.8,557.0h0M839.8,563.4h0M839.3,567.1h0M838.8,581.1h0M838.7,583.6h0M838.8,586.8h0M838.7,593.7h0M841.7,554.9h0M842.2,565.0h0M842.0,569.2h0M842.1,571.7h0M841.7,578.6h0M841.0,580.7h0M842.0,583.3h0M841.2,590.1h0M842.2,591.6h0M841.2,596.1h0M843.3,552.8h0M843.4,558.5h0M843.6,565.7h0M843.1,574.5h0M843.6,580.7h0M844.0,582.6h0M843.1,584.6h0M843.1,590.0h0M843.6,591.6h0M843.6,594.3h0M846.4,549.9h0M846.2,557.0h0M845.6,558.9h0M846.5,560.9h0M846.4,563.9h0M846.3,564.9h0M845.9,570.1h0M846.3,573.8h0M845.5,576.4h0M845.8,581.5h0M845.3,584.9h0M846.0,587.5h0M846.3,589.6h0M845.4,591.9h0M845.5,593.3h0M848.5,548.5h0M848.4,549.6h0M848.6,555.1h0M847.8,556.3h0M848.2,559.6h0M848.4,561.4h0M847.7,563.6h0M848.2,565.0h0M848.7,567.5h0M848.7,571.9h0M848.4,576.6h0M848.5,580.2h0M848.0,587.9h0M847.6,590.1h0M848.3,591.8h0M850.0,547.3h0M849.8,550.2h0M850.4,551.7h0M850.4,554.8h0M850.9,556.9h0M849.9,558.8h0M850.5,561.6h0M849.8,563.2h0M850.3,566.0h0M850.0,570.2h0M850.0,571.7h0M849.7,574.3h0M850.6,575.7h0M849.9,578.1h0M849.8,580.9h0M850.3,583.6h0M849.8,584.8h0M850.8,587.0h0M850.2,589.3h0M852.3,548.1h0M852.5,550.5h0M852.9,552.0h0M852.1,553.9h0M852.4,556.8h0M853.1,559.0h0M852.6,561.2h0M852.5,562.8h0M852.9,565.8h0M852.2,567.0h0M852.2,572.4h0M852.6,574.1h0M852.3,575.7h0M853.1,579.0h0M853.0,580.2h0M852.6,583.1h0M852.9,585.0h0M852.0,587.2h0M852.2,589.1h0M854.3,547.3h0M854.3,550.1h0M854.6,554.7h0M854.2,558.7h0M854.9,560.8h0M854.2,565.5h0M854.3,570.2h0M854.1,574.0h0M854.2,581.1h0M855.1,582.8h0M855.0,585.5h0M854.2,587.9h0M856.3,548.1h0M856.1,549.9h0M857.3,556.8h0M857.2,565.1h0M856.9,569.3h0M857.2,571.5h0M856.9,581.4h0M858.7,548.5h0M858.5,552.6h0M858.8,559.1h0M859.0,561.2h0M858.7,563.8h0M858.5,575.8h0M858.9,585.2h0M861.8,552.2h0M860.6,554.6h0M860.7,571.7h0M863.7,547.5h0M862.7,549.6h0M862.8,553.0h0M863.4,571.9h0M864.0,577.9h0" fill="none" stroke="#45a09b" stroke-width="1.6"/>
<g fill="none" stroke="#a51d3c" stroke-width="1.4">
<path d="M814.2,549.1 C806,554 800,562 797.6,573.5 C796.4,584 800,593 808,598.4 C816,603.2 826,602.4 832.7,597.9 C840,592.6 845.6,583 846.9,572.5"/>
<path d="M814.6,549.4 C812,556 810.6,562 810,567" stroke-width="1.4"/>
<path d="M826.9,533.4 C836,534.6 844,538 848.4,542.2 M847.4,529.5 C850,525.4 856,522.6 863,522.2 M858.1,539.3 C859,533.6 862,529.4 866,526.6 M842.5,551 C845,553.6 846.4,556 846.9,558.8" stroke-width="1.3"/>
<path d="M852.6,548.6 L861.4,552.5 M852.6,556.4 L861.4,558.4 M851.6,561.8 L860.5,563.6" stroke-width="1.4"/>
<path d="M853.2,568.1 C854.6,574 856,578.6 858.1,582.3 C859,584.6 860.5,586.8 863,588.2 L901,608.6"/>
<path d="M847,573 C846,582 843.6,590 840,596" stroke-width="1.3"/>
</g>
<path d="M816.4,547.2 l-6.6,2.4 l4.6,4.2z M803.8,540 l-3.4,2 l3.8,2.2z" fill="#a9203f"/>
<path d="M822,530.4 L848.4,546.6 L850.4,545.2 L850.8,549 L849.4,574 L848.4,574 L847.8,549z" fill="#12233f"/>
<clipPath id="rleg"><path d="M855,466 L901,466 L901,430 L940,420 V585 H855z"/></clipPath>
<g clip-path="url(#rleg)">
<path d="M902,455.5 L932.2,439.9 V533 C932.2,541 930,547.5 925.9,550.5 L896.6,569.1 L890.7,572 C899,566 902,556 902,544.7z" fill="#1a3c62"/>
<path d="M897.6,441.9 L924.4,426.2 C928,430 930.6,434.6 931.6,439.6 L902.6,455.6 C902.2,449.8 900.6,445.4 897.6,441.9z" fill="#5d8aa8"/>
<path d="M902.5,547.1 L932,531.2 V533 C932.2,541 930,547.5 925.9,550.5 L896.6,569.1 L890.7,572 C899,566 902,556 902.5,547.1z" fill="#1e4167" stroke="#0b1730" stroke-width="1.5"/>
<path d="M914.2,415.5 C923.9,420.5 932.2,429 932.2,439.9 V533 C932.2,541 930,547.5 925.9,550.5 L896.6,569.1" fill="none" stroke="#0b1730" stroke-width="2"/>
<path d="M745.3,479.2 V378.2 C745.3,371 750,367.4 756.6,368.9 L881,432.6 C890,437 902,444 902,455.5 V544.7 C902,556 899,566 890.7,572 C884,576.2 875,575.6 867.4,570.5 C864,568.3 862.3,566 862,563.2 L863.3,551.5 C867.3,546 870.5,540 870.5,529 V473.1 C870.5,466.5 866,463 861.4,460.4 L781,418.2 C779,417.2 777.1,418.6 777.1,422.1 V490.9 C777.6,501 781,512 792.7,526 L777.1,534.4 C762,519.5 750,503 746.8,489 C745.6,484 745.3,481 745.3,479.2z" fill="url(#ykFront)" stroke="#0b1730" stroke-width="2"/>
<path d="M782,531 C770.2,519.2 759.5,503.6 753.6,486 C752.8,483 752.6,480 752.6,476 V400 C752.8,390.5 757.5,386.2 766,386.3 C770,386.4 774,387.8 778,389.8 L822,411.9 L867.3,434.1 L881,441.9 C888.8,446.5 893.7,452 894.7,461.4 V538.8 C894.7,552 889,560.3 881,565.2 C875,567.6 868,566.8 861.4,563.2 M787.8,529 C777,518.2 767.3,502.6 762.4,486 C761.6,483 761.4,480 761.4,476 V411.5 C761.4,402 765.5,397.8 772.2,398.2 C776,398.4 780,399.8 784,401.8 L822,421.2 L862.4,440.9 L875.1,448.2 C882.9,453 886.3,460 886.6,469.2 V534 C886.6,546.6 884,551.5 879,555.4 C875,558.5 870,559.8 862.4,558.4 M792.7,526 C782.9,515.3 775.1,500.7 770.7,486 C769.9,483 769.7,480 769.7,476 V422.5 C769.7,413.5 773.5,409.2 780,409.5 C784,409.7 787.5,411 791,412.8 L823,431.4 L857.5,448.2 L869.25,455.5 C876.1,460 878.5,466 878.7,473.1 V531 C878.6,541.8 876.5,546 872.2,549.6 C869.5,552 866.5,553.2 863.4,553.5" fill="none" stroke="#7e3358" stroke-width="2.1"/>
</g>
<g fill="#b8203e"><circle cx="753.1" cy="448.9" r="2.5"/><circle cx="761.4" cy="452.4" r="2.5"/><circle cx="769.7" cy="456.6" r="2.5"/><circle cx="822" cy="411.9" r="2.5"/><circle cx="822" cy="421.2" r="2.5"/><circle cx="823" cy="431.4" r="2.5"/><circle cx="878.6" cy="504.6" r="2.5"/><circle cx="886.4" cy="507.7" r="2.5"/><circle cx="894.8" cy="511.5" r="2.5"/></g>
<g fill="none" stroke="#a9203f" stroke-width="1.6">
<path d="M881,431.9 L913.2,415" stroke="#8a2c4e" stroke-width="1.7"/>
<path d="M949.1,470.3 V395.6 L923,408.8"/>
</g>
<path d="M918.1,411.6 l10,-0.8 l-4.2,-7.4z" fill="#a9203f"/>
<g stroke="#0b1730" stroke-width="2">
<path d="M821.8,648.75 C821.8,645.4 823.6,642.6 827.9,641.7 L839.6,641.1 Q841.6,641.2 843.1,642.3 L920.5,687.4 C925,689.4 929.6,694 930.4,700.3 L929.3,710.9 C929,713.4 927.6,715 925.2,716.1 L912.3,720.8 L823.2,669.3 Q821.8,668.4 821.8,666.3z" fill="#263f62"/>
<path d="M822.6,645.8 L911.7,697.4 V720.4 L823.2,669.3 Q821.8,668.4 821.8,666.3 V648.75z" fill="#3f4e92" stroke="none"/>
<path d="M822.6,645.8 L829.1,649.6 V672.6 L823.2,669.3 Q821.8,668.4 821.8,666.3 V648.75z" fill="#2a4468" stroke="none"/>
<path d="M891.8,685.9 L911.7,697.4 V720.4 L891.8,708.9z" fill="#2c4467" stroke="none"/>
<path d="M829.1,654.2 L891.8,690.5 V701 L829.1,664.6z" fill="#1c2d50" stroke="none"/>
<path d="M839.6,663 L891.4,690.9 V698 L838.6,669.6z" fill="#70cdc5" stroke="none"/>
<ellipse cx="838.6" cy="665.2" rx="2.8" ry="4.2" transform="rotate(-25 838.6 665.2)" fill="#3f8c92" stroke="none"/>
<path d="M829.1,649.6 V672.6 M891.8,685.9 V708.9" fill="none" stroke-width="1.3"/>
<path d="M911.7,698 C914,692 918,689 920.5,687.4 C925,689.4 929.6,694 930.4,700.3 L929.3,710.9 C929,713.4 927.6,715 925.2,716.1 L912.3,720.8z" fill="#2d4669" stroke-width="1.6"/>
<path d="M822.6,645.8 L911.7,697.4 V720.4" fill="none" stroke-width="1.6"/>
</g>
<g fill="none" stroke="#0b1730" stroke-width="1.5">
<path d="M853.8,362.2 L839.8,392.7"/>
<path d="M734.5,538 L752.6,548.5"/>
<path d="M774.9,662.9 L823.4,563.3"/>
<path d="M860.5,562.8 L936.1,581.8"/>
</g>
<path d="M719.8,463 L752.6,474.2" fill="none" stroke="#a9203f" stroke-width="1.6"/>
<text x="809.24" y="354.0" font-size="17.2" font-weight="700" fill="#14161d" stroke="#14161d" stroke-width="0.6" textLength="90.05" lengthAdjust="spacingAndGlyphs">Yoke Magnet</text>
<text x="912.67" y="372.0" font-size="17.2" font-weight="700" fill="#14161d" stroke="#14161d" stroke-width="0.6" textLength="87.15" lengthAdjust="spacingAndGlyphs">Magnetizing</text>
<text x="920.14" y="389.8" font-size="17.2" font-weight="700" fill="#14161d" stroke="#14161d" stroke-width="0.6" textLength="71.85" lengthAdjust="spacingAndGlyphs">Current (I)</text>
<text x="666.69" y="452.4" font-size="17.2" font-weight="700" fill="#9a1a39" stroke="#9a1a39" stroke-width="0.6" textLength="65.03" lengthAdjust="spacingAndGlyphs">Magnetic</text>
<text x="684.53" y="470.0" font-size="17.2" font-weight="700" fill="#9a1a39" stroke="#9a1a39" stroke-width="0.6" textLength="29.29" lengthAdjust="spacingAndGlyphs">Flux</text>
<text x="680.34" y="531.6" font-size="17.2" font-weight="700" fill="#14161d" stroke="#14161d" stroke-width="0.6" textLength="68.06" lengthAdjust="spacingAndGlyphs">Specimen</text>
<text x="938.24" y="575.8" font-size="17.2" font-weight="700" fill="#14161d" stroke="#14161d" stroke-width="0.6" textLength="53.87" lengthAdjust="spacingAndGlyphs">Surface</text>
<text x="945.09" y="593.3" font-size="17.2" font-weight="700" fill="#14161d" stroke="#14161d" stroke-width="0.6" textLength="39.54" lengthAdjust="spacingAndGlyphs">Crack</text>
<text x="906.38" y="616.3" font-size="17.2" font-weight="700" fill="#9a1a39" stroke="#9a1a39" stroke-width="0.6" textLength="65.25" lengthAdjust="spacingAndGlyphs">Magnetic</text>
<text x="924.09" y="634.5" font-size="17.2" font-weight="700" fill="#9a1a39" stroke="#9a1a39" stroke-width="0.6" textLength="28.96" lengthAdjust="spacingAndGlyphs">Flux</text>
<text x="909.74" y="651.9" font-size="17.2" font-weight="700" fill="#9a1a39" stroke="#9a1a39" stroke-width="0.6" textLength="59.02" lengthAdjust="spacingAndGlyphs">Leakage</text>
<text x="707.60" y="679.3" font-size="17.2" font-weight="700" fill="#14161d" stroke="#14161d" stroke-width="0.6" textLength="91.00" lengthAdjust="spacingAndGlyphs">Accumulated</text>
<text x="721.59" y="697.8" font-size="17.2" font-weight="700" fill="#14161d" stroke="#14161d" stroke-width="0.6" textLength="61.97" lengthAdjust="spacingAndGlyphs">Particles</text>
<text x="838.40" y="721.9" font-size="17.2" font-weight="700" fill="#14161d" stroke="#14161d" stroke-width="0.6" textLength="42.86" lengthAdjust="spacingAndGlyphs">Visual</text>
<text x="824.58" y="739.5" font-size="17.2" font-weight="700" fill="#14161d" stroke="#14161d" stroke-width="0.6" textLength="69.73" lengthAdjust="spacingAndGlyphs">Indication</text>
</g>
</svg>
</body>
</html>
